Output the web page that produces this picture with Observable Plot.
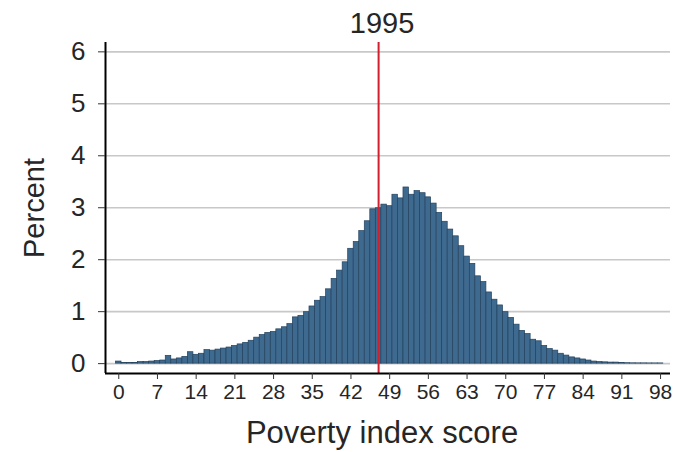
<!DOCTYPE html>
<html>
<head>
<meta charset="utf-8">
<script src="https://cdn.jsdelivr.net/npm/d3@7"></script>
<script src="https://cdn.jsdelivr.net/npm/@observablehq/plot@0.6"></script>
<style>
  html, body { margin: 0; padding: 0; background: #fff; }
  #chart svg { display: block; }
</style>
</head>
<body>
<div id="chart"></div>
<script>
const scores = [0,1,2,3,4,5,6,7,8,9,10,11,12,13,14,15,16,17,18,19,20,21,22,23,24,25,26,27,28,29,30,31,32,33,34,35,36,37,38,39,40,41,42,43,44,45,46,47,48,49,50,51,52,53,54,55,56,57,58,59,60,61,62,63,64,65,66,67,68,69,70,71,72,73,74,75,76,77,78,79,80,81,82,83,84,85,86,87,88,89,90,91,92,93,94,95,96,97,98];
const percents = [0.04,0.01,0.01,0.015,0.03,0.03,0.04,0.05,0.06,0.15,0.08,0.10,0.13,0.22,0.17,0.19,0.26,0.25,0.27,0.29,0.31,0.34,0.37,0.40,0.44,0.50,0.55,0.59,0.61,0.66,0.70,0.76,0.89,0.92,0.99,1.10,1.21,1.28,1.43,1.63,1.79,1.95,2.21,2.34,2.55,2.74,2.97,2.99,3.06,3.03,3.25,3.18,3.39,3.25,3.32,3.28,3.20,3.08,2.90,2.73,2.58,2.45,2.26,2.06,1.92,1.68,1.57,1.37,1.23,1.12,0.99,0.88,0.75,0.63,0.57,0.46,0.43,0.34,0.28,0.25,0.19,0.155,0.12,0.10,0.08,0.06,0.04,0.03,0.025,0.02,0.02,0.01,0.008,0.006,0.005,0.005,0.004,0.004,0.004];
const xTicks = [0,7,14,21,28,35,42,49,56,63,70,77,84,91,98];
const yTicks = [0,1,2,3,4,5,6];
const markerYear = [47];
const titleText = ["1995"];
const xTitle = ["Poverty index score"];
const yTitle = ["Percent"];

const data = scores.map((s, i) => ({score: s, pct: percents[i]}));

const xDomain = [-2.4, 99.8];
const yDomain = [-0.19, 6.18];
const font = "'Liberation Sans', Arial, Helvetica, sans-serif";
const textColor = "#262626";

const chart = Plot.plot({
  width: 675,
  height: 452,
  marginLeft: 105,
  marginRight: 5,
  marginTop: 42,
  marginBottom: 79,
  style: {fontFamily: font, background: "#fff", color: textColor},
  x: {domain: xDomain},
  y: {domain: yDomain},
  marks: [
    Plot.gridY(yTicks, {stroke: "#c8c8c8", strokeOpacity: 1, strokeWidth: 1.6}),
    Plot.rectY(data, {
      x1: d => d.score - 0.5,
      x2: d => d.score + 0.5,
      y: "pct",
      fill: "#3f6a90",
      stroke: "#23415c",
      strokeWidth: 0.7
    }),
    Plot.ruleX(markerYear, {stroke: "#d11f2f", strokeWidth: 2}),
    Plot.ruleX([xDomain[0]], {stroke: "#000", strokeWidth: 2}),
    Plot.ruleY([yDomain[0]], {stroke: "#000", strokeWidth: 2}),
    Plot.axisY(yTicks, {
      tickSize: 7,
      tickPadding: 13,
      fontSize: 26,
      tickFormat: d3.format("d"),
      label: null,
      stroke: "#333",
      fill: textColor
    }),
    Plot.axisX(xTicks, {
      tickSize: 6,
      tickPadding: 5,
      fontSize: 21,
      tickFormat: d3.format("d"),
      label: null,
      stroke: "#333",
      fill: textColor
    }),
    Plot.text(titleText, {
      frameAnchor: "top",
      lineAnchor: "middle",
      textAnchor: "middle",
      dx: -6,
      dy: -19,
      fontSize: 29,
      fill: textColor
    }),
    Plot.text(xTitle, {
      frameAnchor: "bottom",
      lineAnchor: "middle",
      textAnchor: "middle",
      dx: -6,
      dy: 60,
      fontSize: 31,
      fill: textColor
    }),
    Plot.text(yTitle, {
      frameAnchor: "left",
      lineAnchor: "middle",
      textAnchor: "middle",
      rotate: -90,
      dx: -71,
      fontSize: 29,
      fill: textColor
    })
  ]
});

document.getElementById("chart").appendChild(chart);
</script>
</body>
</html>
